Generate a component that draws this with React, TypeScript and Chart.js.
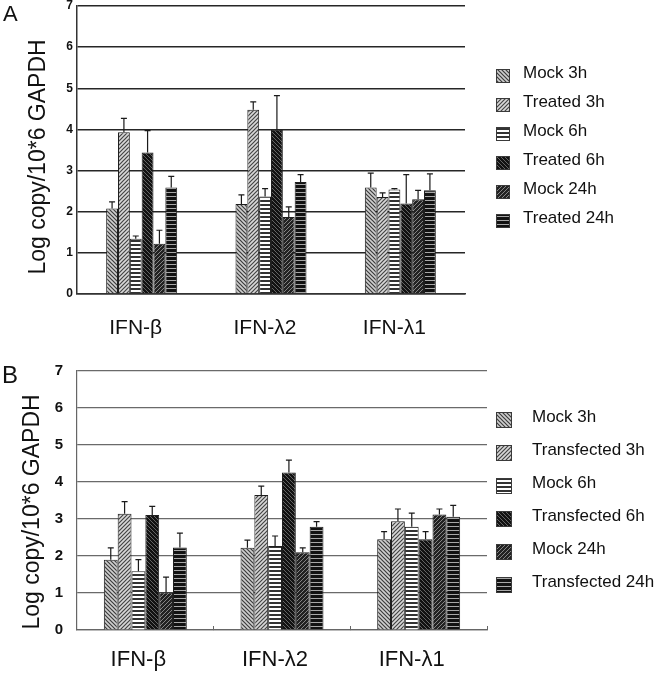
import React, { useEffect, useRef } from 'react';
import { Chart, registerables } from 'chart.js';

Chart.register(...registerables);

const FONT_FAMILY = '"Liberation Sans", Arial, Helvetica, sans-serif';

// ---------------- data ----------------
const categories = ['IFN-β', 'IFN-λ2', 'IFN-λ1'];
const yAxisTitle = 'Log copy/10*6 GAPDH';
const yAxisMin = 0;
const yAxisMax = 7;
const yAxisStep = 1;

const seriesNamesA = ['Mock 3h', 'Treated 3h', 'Mock 6h', 'Treated 6h', 'Mock 24h', 'Treated 24h'];
const seriesNamesB = ['Mock 3h', 'Transfected 3h', 'Mock 6h', 'Transfected 6h', 'Mock 24h', 'Transfected 24h'];

// Panel A – means
const aMock3h = [2.08, 2.19, 2.59];
const aTreated3h = [3.93, 4.48, 2.36];
const aMock6h = [1.34, 2.37, 2.54];
const aTreated6h = [3.44, 3.99, 2.2];
const aMock24h = [1.22, 1.87, 2.3];
const aTreated24h = [2.59, 2.72, 2.52];
// Panel A – upper error
const aMock3hErr = [0.16, 0.22, 0.35];
const aTreated3hErr = [0.34, 0.19, 0.1];
const aMock6hErr = [0.07, 0.19, 0.02];
const aTreated6hErr = [0.53, 0.83, 0.7];
const aMock24hErr = [0.33, 0.25, 0.22];
const aTreated24hErr = [0.27, 0.18, 0.4];

// Panel B – means
const bMock3h = [1.9, 2.22, 2.45];
const bTransfected3h = [3.14, 3.65, 2.94];
const bMock6h = [1.59, 2.27, 2.79];
const bTransfected6h = [3.11, 4.26, 2.45];
const bMock24h = [1.02, 2.1, 3.12];
const bTransfected24h = [2.23, 2.79, 3.06];
// Panel B – upper error
const bMock3hErr = [0.32, 0.21, 0.21];
const bTransfected3hErr = [0.33, 0.24, 0.33];
const bMock6hErr = [0.31, 0.27, 0.37];
const bTransfected6hErr = [0.23, 0.33, 0.21];
const bMock24hErr = [0.41, 0.12, 0.15];
const bTransfected24hErr = [0.39, 0.14, 0.31];

// ---------------- styles ----------------
type PatternStyle = { bg: string; fg: string; dir: 'down' | 'up' | 'horiz'; lw: number; size: number };
const patternStyles: PatternStyle[] = [
  { bg: '#cfcfcf', fg: '#3c3c3c', dir: 'down', lw: 1.2, size: 4 },
  { bg: '#d8d8d8', fg: '#444444', dir: 'up', lw: 1.2, size: 4 },
  { bg: '#ffffff', fg: '#333333', dir: 'horiz', lw: 2, size: 4 },
  { bg: '#121212', fg: '#646464', dir: 'down', lw: 1, size: 4 },
  { bg: '#222222', fg: '#858585', dir: 'up', lw: 1, size: 4 },
  { bg: '#121212', fg: '#a8a8a8', dir: 'horiz', lw: 1, size: 4 },
];

function makePattern(p: PatternStyle): CanvasPattern | string {
  const c = document.createElement('canvas');
  const s = p.size;
  c.width = s;
  c.height = s;
  const g = c.getContext('2d');
  if (!g) return p.bg;
  g.fillStyle = p.bg;
  g.fillRect(0, 0, s, s);
  if (p.dir === 'horiz') {
    g.fillStyle = p.fg;
    g.fillRect(0, 0, s, p.lw);
  } else {
    g.strokeStyle = p.fg;
    g.lineWidth = p.lw;
    g.beginPath();
    for (const k of [-s, 0, s]) {
      if (p.dir === 'down') {
        g.moveTo(-1, k - 1);
        g.lineTo(s + 1, s + k + 1);
      } else {
        g.moveTo(-1, s + k + 1);
        g.lineTo(s + 1, k - 1);
      }
    }
    g.stroke();
  }
  return g.createPattern(c, 'repeat') || p.bg;
}

type PanelSpec = {
  letter: string; letterFont: number; letterX: number; letterY: number;
  width: number; height: number;
  area: { left: number; top: number; right: number; bottom: number };
  names: string[]; values: number[][]; errors: number[][];
  groupFraction: number;
  yTickFont: number; yTickPadding: number;
  xTickFont: number; xTickPadding: number; xTickLength: number; xTicksShown: boolean; xLabelOffset: number;
  gridColor: string; gridWidth: number; axisColor: string;
  titleBaselineX: number; titleCenterY: number; titleFont: number;
  legendX: number; legendBox: number; legendFirstCenter: number; legendStep: number;
  legendTextX: number; legendTextDy: number; legendFont: number;
};

const panelA: PanelSpec = {
  letter: 'A', letterFont: 22, letterX: 3, letterY: 21,
  width: 659, height: 342,
  area: { left: 77, top: 6, right: 465, bottom: 294 },
  names: seriesNamesA,
  values: [aMock3h, aTreated3h, aMock6h, aTreated6h, aMock24h, aTreated24h],
  errors: [aMock3hErr, aTreated3hErr, aMock6hErr, aTreated6hErr, aMock24hErr, aTreated24hErr],
  groupFraction: 0.549,
  yTickFont: 12, yTickPadding: 4,
  xTickFont: 21, xTickPadding: 22, xTickLength: 0, xTicksShown: false, xLabelOffset: -6,
  gridColor: '#262626', gridWidth: 1.5, axisColor: '#333333',
  titleBaselineX: 45, titleCenterY: 157, titleFont: 23,
  legendX: 496, legendBox: 14, legendFirstCenter: 75.8, legendStep: 29.1,
  legendTextX: 523, legendTextDy: -2.8, legendFont: 17,
};

const panelB: PanelSpec = {
  letter: 'B', letterFont: 24, letterX: 2, letterY: 41,
  width: 659, height: 334,
  area: { left: 77, top: 29, right: 487, bottom: 288 },
  names: seriesNamesB,
  values: [bMock3h, bTransfected3h, bMock6h, bTransfected6h, bMock24h, bTransfected24h],
  errors: [bMock3hErr, bTransfected3hErr, bMock6hErr, bTransfected6hErr, bMock24hErr, bTransfected24hErr],
  groupFraction: 0.607,
  yTickFont: 15, yTickPadding: 14,
  xTickFont: 22, xTickPadding: 20.8, xTickLength: -4, xTicksShown: true, xLabelOffset: -7,
  gridColor: '#6a6a6a', gridWidth: 1.2, axisColor: '#666666',
  titleBaselineX: 38.5, titleCenterY: 170, titleFont: 23,
  legendX: 496, legendBox: 16, legendFirstCenter: 77.5, legendStep: 33.1,
  legendTextX: 532, legendTextDy: -2.5, legendFont: 17,
};

const errorBarPlugin = {
  id: 'errorBars',
  afterDatasetsDraw(chart: any) {
    const ctx = chart.ctx;
    const yScale = chart.scales.y;
    chart.data.datasets.forEach((ds: any, i: number) => {
      const meta = chart.getDatasetMeta(i);
      meta.data.forEach((el: any, j: number) => {
        const v = ds.data[j];
        const e = ds.errorPlus ? ds.errorPlus[j] : 0;
        const top = yScale.getPixelForValue(v + e);
        ctx.save();
        ctx.strokeStyle = '#1a1a1a';
        ctx.lineWidth = 1.2;
        ctx.beginPath();
        ctx.moveTo(el.x, el.y);
        ctx.lineTo(el.x, top);
        ctx.moveTo(el.x - 3, top);
        ctx.lineTo(el.x + 3, top);
        ctx.stroke();
        ctx.restore();
      });
    });
  },
};

function decorPlugin(spec: PanelSpec) {
  return {
    id: 'decor',
    afterDraw(chart: any) {
      const ctx = chart.ctx;
      ctx.save();
      ctx.fillStyle = '#111';
      ctx.textAlign = 'left';
      ctx.textBaseline = 'alphabetic';
      ctx.font = `${spec.letterFont}px ${FONT_FAMILY}`;
      ctx.fillText(spec.letter, spec.letterX, spec.letterY);

      ctx.save();
      ctx.translate(spec.titleBaselineX, spec.titleCenterY);
      ctx.rotate(-Math.PI / 2);
      ctx.font = `${spec.titleFont}px ${FONT_FAMILY}`;
      ctx.textAlign = 'center';
      ctx.textBaseline = 'alphabetic';
      ctx.fillText(yAxisTitle, 0, 0);
      ctx.restore();

      chart.data.datasets.forEach((ds: any, i: number) => {
        const cy = spec.legendFirstCenter + i * spec.legendStep;
        const bs = spec.legendBox;
        const bx = spec.legendX;
        const by = Math.round(cy - bs / 2);
        ctx.fillStyle = ds.backgroundColor;
        ctx.fillRect(bx, by, bs, bs);
        ctx.strokeStyle = '#3a3a3a';
        ctx.lineWidth = 1;
        ctx.strokeRect(bx + 0.5, by + 0.5, bs - 1, bs - 1);
        ctx.fillStyle = '#111';
        ctx.font = `${spec.legendFont}px ${FONT_FAMILY}`;
        ctx.textAlign = 'left';
        ctx.textBaseline = 'middle';
        ctx.fillText(ds.label, spec.legendTextX, cy + spec.legendTextDy);
      });
      ctx.restore();
    },
  };
}

function Panel({ spec }: { spec: PanelSpec }) {
  const ref = useRef<HTMLCanvasElement>(null);
  useEffect(() => {
    const canvas = ref.current;
    if (!canvas) return;
    const patterns = patternStyles.map(makePattern);
    const datasets = spec.names.map((name, i) => ({
      label: name,
      data: spec.values[i],
      errorPlus: spec.errors[i],
      backgroundColor: patterns[i],
      borderColor: '#1e1e1e',
      borderWidth: 1,
      barPercentage: 1,
      categoryPercentage: spec.groupFraction,
    }));
    const chart = new Chart(canvas, {
      type: 'bar',
      data: { labels: categories, datasets: datasets as any },
      options: {
        responsive: false,
        animation: false,
        devicePixelRatio: 1,
        layout: {
          padding: { left: 0, top: spec.area.top, right: spec.width - spec.area.right, bottom: 0 },
        },
        plugins: {
          legend: { display: false },
          tooltip: { enabled: false },
        },
        scales: {
          x: {
            grid: {
              display: spec.xTicksShown,
              drawOnChartArea: false,
              drawTicks: spec.xTicksShown,
              tickLength: spec.xTickLength,
              color: spec.axisColor,
              lineWidth: 1,
            },
            border: { display: true, color: spec.axisColor, width: spec.gridWidth },
            ticks: {
              color: '#111',
              font: { family: FONT_FAMILY, size: spec.xTickFont },
              padding: spec.xTickPadding,
              labelOffset: spec.xLabelOffset,
              maxRotation: 0,
              autoSkip: false,
            },
            afterFit: (s: any) => {
              s.height = spec.height - spec.area.bottom;
              s.paddingLeft = 0;
              s.paddingRight = 0;
              s.paddingTop = 0;
              s.paddingBottom = 0;
            },
          },
          y: {
            min: yAxisMin,
            max: yAxisMax,
            ticks: {
              stepSize: yAxisStep,
              color: '#111',
              font: { family: FONT_FAMILY, size: spec.yTickFont, weight: 'bold' },
              padding: spec.yTickPadding,
            },
            grid: { color: spec.gridColor, lineWidth: spec.gridWidth, drawTicks: false },
            border: { display: true, color: spec.axisColor, width: spec.gridWidth },
            afterFit: (s: any) => {
              s.width = spec.area.left;
              s.paddingTop = 0;
              s.paddingBottom = 0;
              s.paddingLeft = 0;
              s.paddingRight = 0;
            },
          },
        },
      } as any,
      plugins: [errorBarPlugin, decorPlugin(spec)],
    });
    return () => chart.destroy();
  }, [spec]);
  return <canvas ref={ref} width={spec.width} height={spec.height} style={{ display: 'block' }} />;
}

export default function App() {
  useEffect(() => {
    document.body.style.margin = '0';
    document.body.style.background = '#ffffff';
  }, []);
  return (
    <div style={{ width: 659, height: 676, background: '#fff', overflow: 'hidden' }}>
      <Panel spec={panelA} />
      <Panel spec={panelB} />
    </div>
  );
}
